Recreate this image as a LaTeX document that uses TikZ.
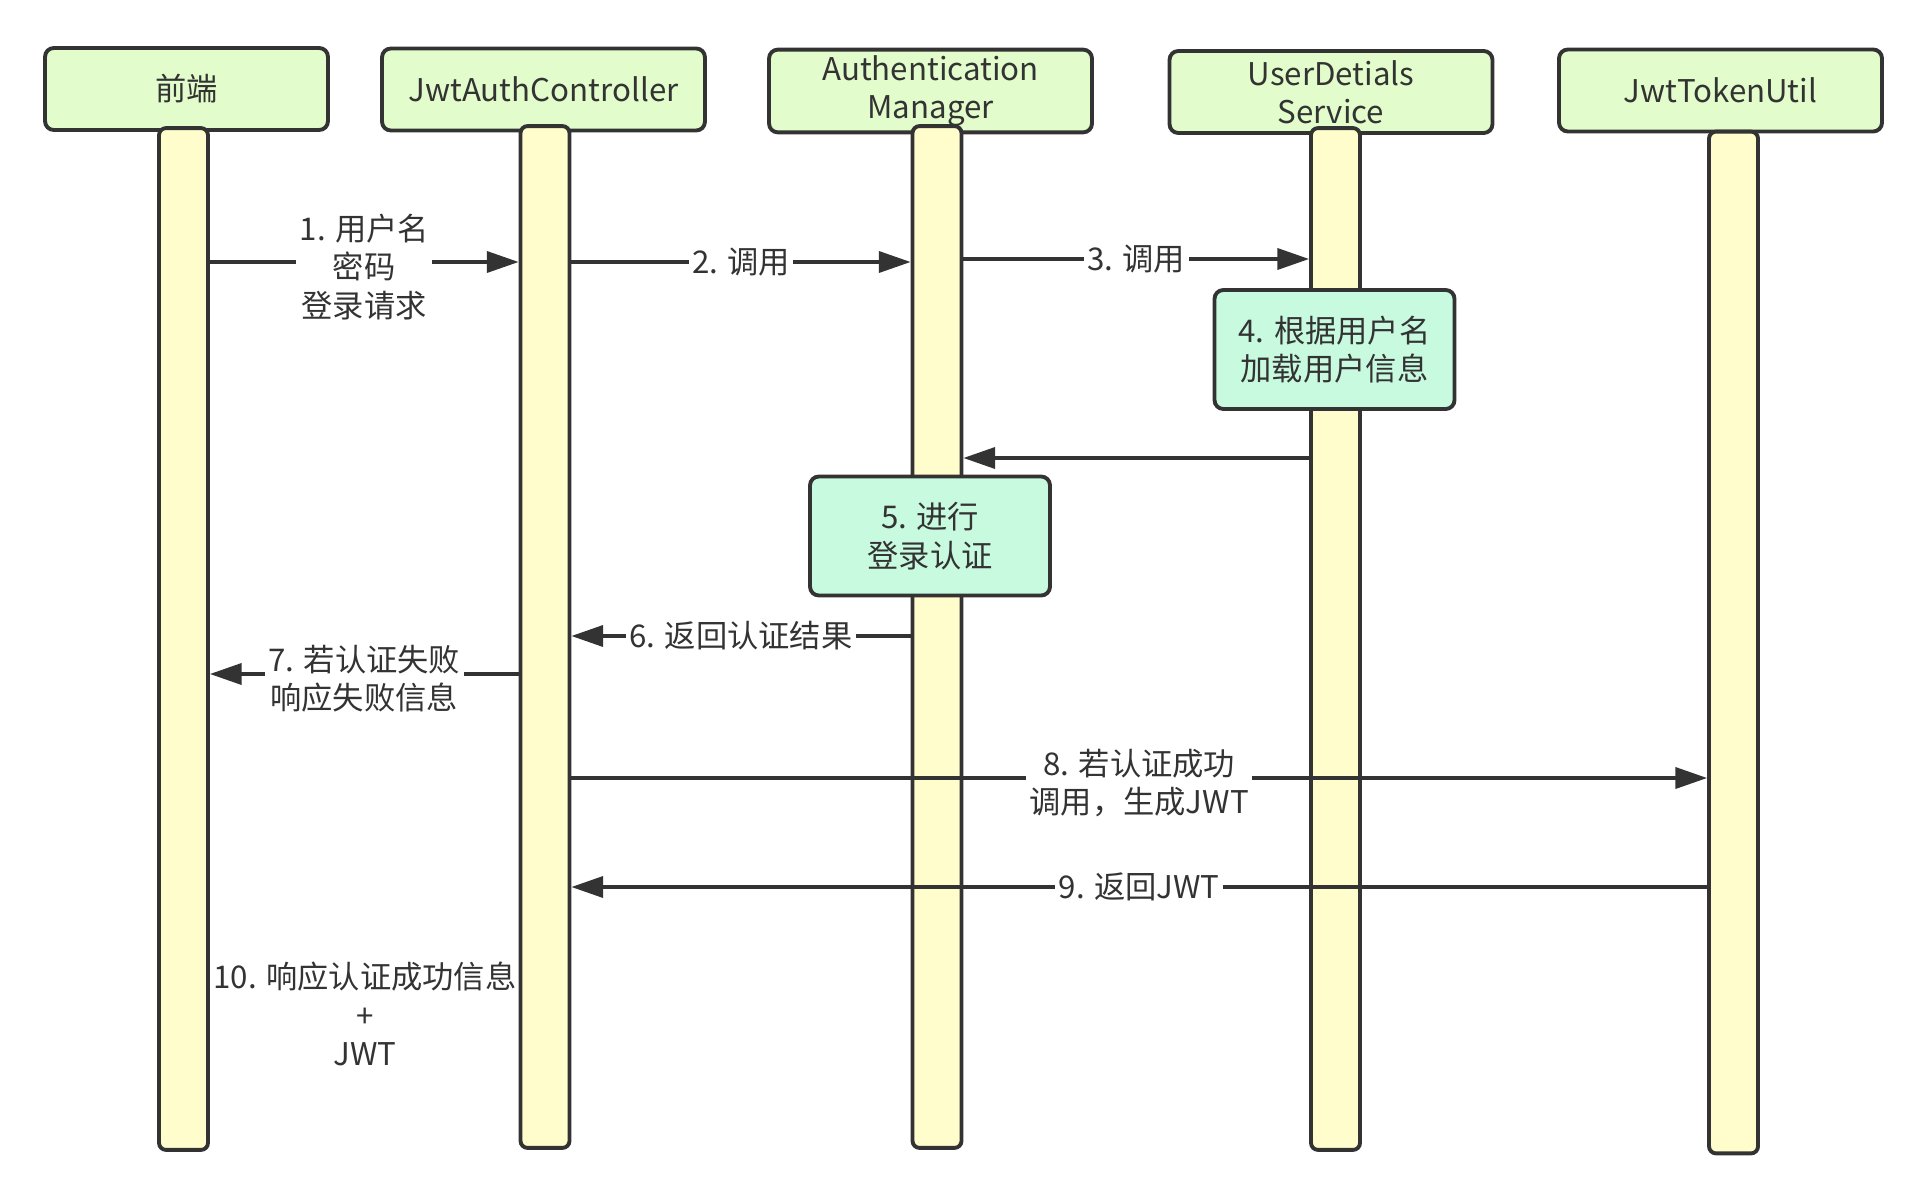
\documentclass[tikz,border=0pt]{standalone}
\usepackage{fontspec}
\setmainfont{Noto Sans CJK SC}
\usepackage{xcolor}
\usetikzlibrary{arrows.meta, positioning}

\definecolor{headfill}{RGB}{226,252,203}
\definecolor{lifefill}{RGB}{255,253,204}
\definecolor{actfill}{RGB}{200,250,224}
\definecolor{ink}{RGB}{51,51,51}

\begin{document}
\begin{tikzpicture}[
  x=0.02cm, y=-0.02cm,
  head/.style={draw=ink, line width=2.2pt, rounded corners=5pt, fill=headfill, minimum width=6.46cm, minimum height=1.64cm, align=center, text=ink, font=\fontsize{17.8}{21.8}\selectfont},
  life/.style={draw=ink, line width=2.2pt, rounded corners=4pt, fill=lifefill, minimum width=0.98cm, minimum height=20.44cm},
  act/.style={draw=ink, line width=2.2pt, rounded corners=5pt, fill=actfill, minimum width=4.8cm, minimum height=2.38cm, align=center, text=ink, font=\fontsize{17.8}{21.8}\selectfont},
  msg/.style={-{Triangle[length=18pt, width=12pt]}, line width=1.8pt, draw=ink},
  lbl/.style={fill=white, align=center, inner sep=2pt, text=ink, font=\fontsize{17.8}{21.8}\selectfont},
]
\useasboundingbox (0,0) rectangle (1919,1196);

% Participants
\node[head, minimum width=5.66cm] (fehead) at (186.5,89) {前端};
\node[head] (jachead) at (543.5,89.5) {JwtAuthController};
\node[head] (amhead) at (930.5,91) {Authentication\\Manager};
\node[head] (udshead) at (1331,92) {UserDetials\\Service};
\node[head] (jtuhead) at (1720.5,90.5) {JwtTokenUtil};

% Lifelines
\node[life] (fe) at (183.5,639) {};
\node[life] (jac) at (545,637) {};
\node[life] (am) at (937,637) {};
\node[life] (uds) at (1335.5,639) {};
\node[life] (jtu) at (1733.5,642.5) {};

% Login request
\draw[msg] (fe.east|-0,262) -- node[lbl, yshift=-0.1cm] {1. 用户名\\密码\\登录请求} (jac.west|-0,262);
\draw[msg] (jac.east|-0,262) -- node[lbl] {2. 调用} (am.west|-0,262);
\draw[msg] (am.east|-0,259) -- node[lbl] {3. 调用} (uds.west|-0,259);

% Load user
\node[act] (load) at (1334.5,349.5) {4. 根据用户名\\加载用户信息};
\draw[msg] (uds.west|-0,458) -- (am.east|-0,458);

% Authenticate
\node[act] (auth) at (930,536) {5. 进行\\登录认证};
\draw[msg] (am.west|-0,636) -- node[lbl] {6. 返回认证结果} (jac.east|-0,636);
\draw[msg] (jac.west|-0,674) -- node[lbl, yshift=-0.1cm] {7. 若认证失败\\响应失败信息} (fe.east|-0,674);

% Token
\draw[msg] (jac.east|-0,778) -- node[lbl, yshift=-0.1cm] {8. 若认证成功\\调用，生成JWT} (jtu.west|-0,778);
\draw[msg] (jtu.west|-0,887) -- node[lbl] {9. 返回JWT} (jac.east|-0,887);

% Response
\node[lbl, fill=none] (resp) at (365,1014) {10. 响应认证成功信息\\+\\JWT};

\end{tikzpicture}
\end{document}
